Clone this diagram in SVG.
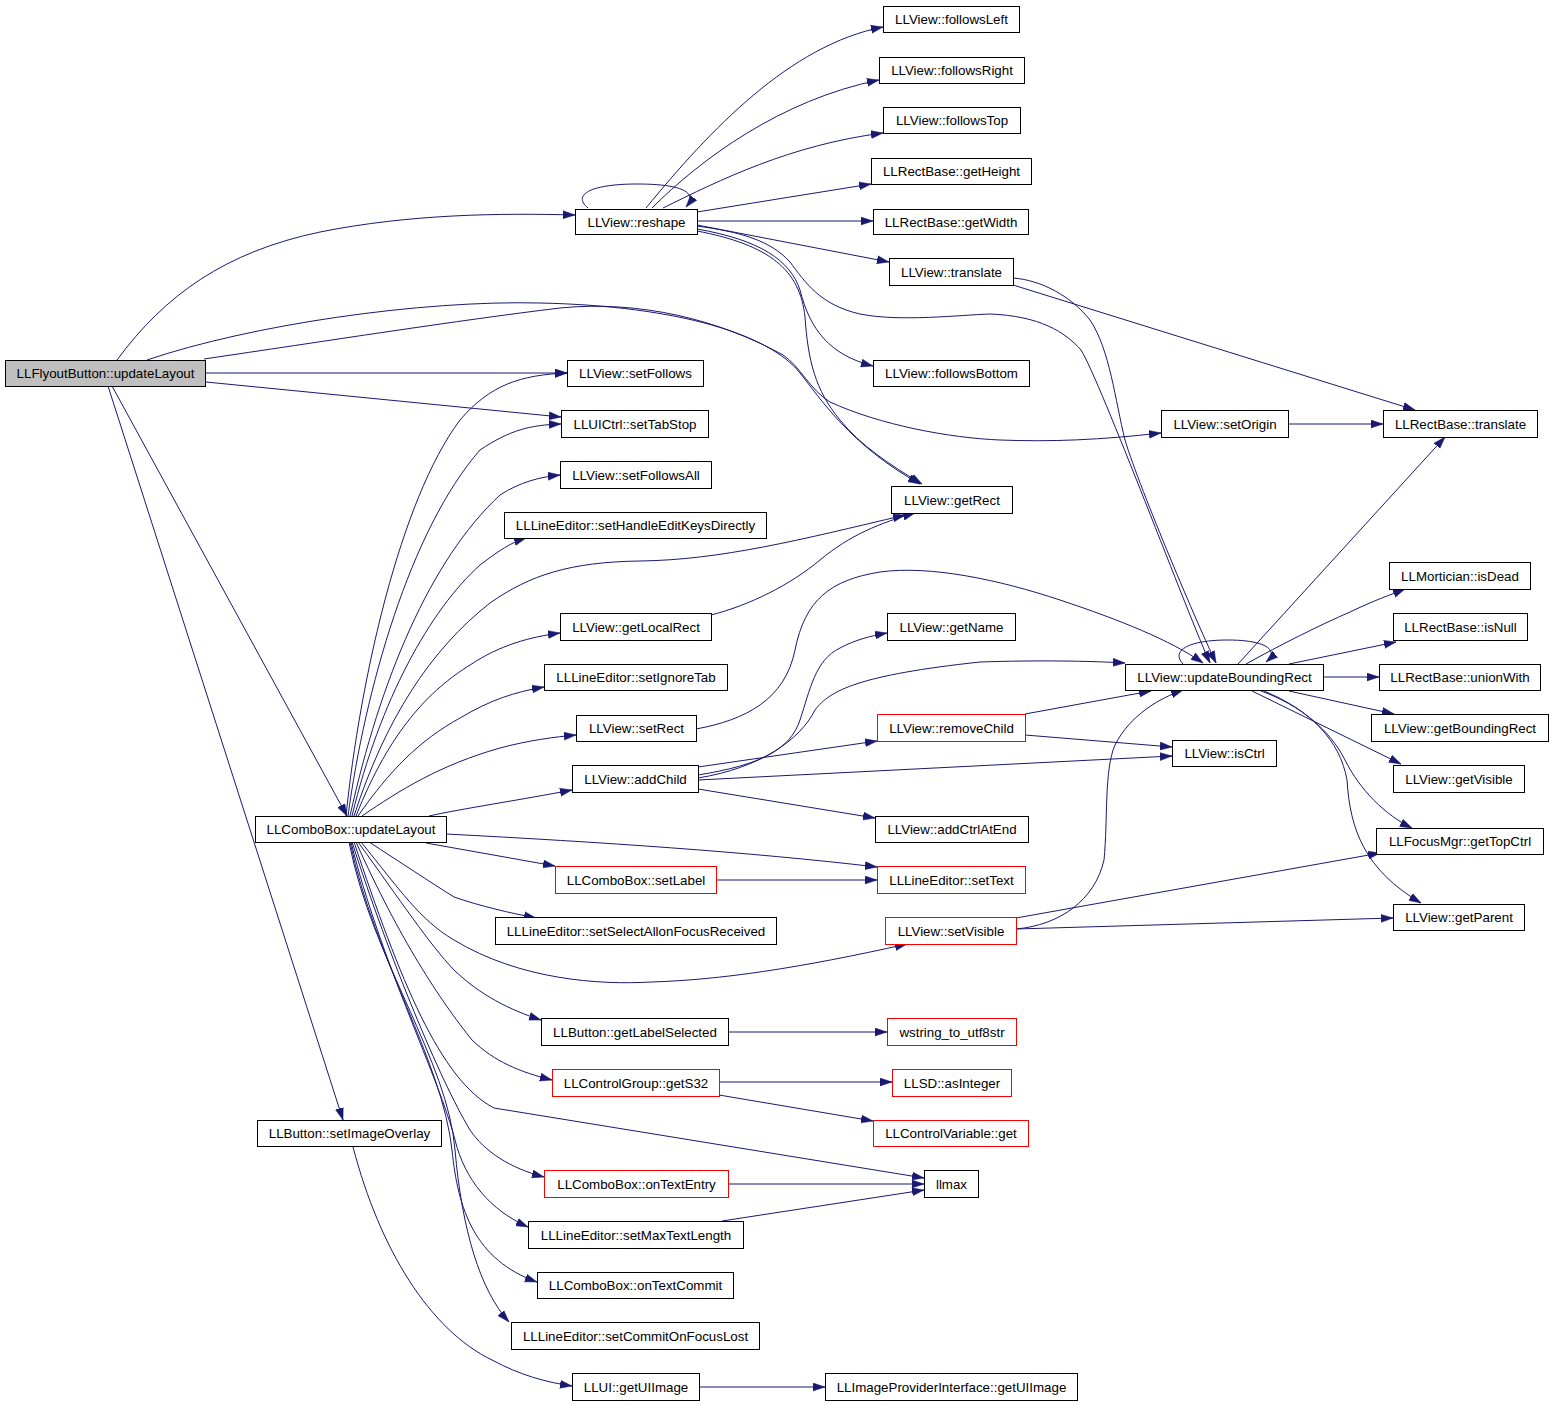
<svg xmlns="http://www.w3.org/2000/svg" width="1552" height="1405" viewBox="0 0 1552 1405">
<style>
.n rect{fill:#ffffff;stroke:#000000;stroke-width:1}
.n.r rect{stroke:#ff0000}
.n.g rect{fill:#bfbfbf}
.n text{font-family:"Liberation Sans",Arial,Helvetica,sans-serif;font-size:13.33px;text-anchor:middle;fill:#000000}
#edges path{fill:none;stroke:#191970;stroke-width:1;marker-end:url(#ah)}
</style>
<defs>
<marker id="ah" markerUnits="userSpaceOnUse" markerWidth="13" markerHeight="9" refX="12" refY="4.5" orient="auto"><path d="M0,0.5 L12,4.5 L0,8.5 z" fill="#191970" stroke="#191970" stroke-width="0.5"/></marker>
</defs>
<rect x="0" y="0" width="1552" height="1405" fill="#ffffff"/>
<g id="edges">
<path d="M117,360 C165,295 225,252 320,232 C410,214 500,213 575,215"/>
<path d="M147,360 C250,325 420,300 540,303 C680,306 770,335 800,373 C820,398 850,445 920,484"/>
<path d="M204,359 C320,342 460,320 560,308 C640,300 720,320 783,355 C800,366 810,390 830,402 C880,425 950,438 1000,440 C1050,442 1100,440 1161,433"/>
<path d="M206,373 L567,373"/>
<path d="M206,382 L561,417"/>
<path d="M112,386 L347,816"/>
<path d="M108,386 L343,1120"/>
<path d="M346,816 C360,680 400,500 460,420 C490,385 520,375 567,373"/>
<path d="M348,816 C365,690 410,530 480,450 C510,430 530,425 561,424"/>
<path d="M350,816 C380,680 430,560 500,495 C520,482 540,477 560,475"/>
<path d="M352,816 C380,700 430,610 480,565 C500,550 510,543 526,538"/>
<path d="M354,816 C385,720 430,650 490,603 C530,575 570,562 640,561 C720,560 800,540 905,515"/>
<path d="M356,816 C390,730 430,690 470,665 C500,645 530,637 560,633"/>
<path d="M358,816 C390,770 420,740 460,718 C490,700 515,692 544,687"/>
<path d="M362,816 C400,790 440,765 500,748 C530,740 555,737 576,735"/>
<path d="M429,816 C460,809 520,800 572,790"/>
<path d="M446,834 C600,842 750,852 877,867"/>
<path d="M426,843 L555,866"/>
<path d="M716,880 L877,880"/>
<path d="M369,842 C400,862 430,882 454,897 C480,906 510,913 536,918"/>
<path d="M361,842 C400,890 420,920 454,940 C520,980 600,985 651,982 C720,980 800,968 907,944"/>
<path d="M358,842 C400,900 430,945 454,970 C480,995 510,1010 541,1020"/>
<path d="M728,1032 L887,1032"/>
<path d="M356,842 C400,940 440,1000 472,1040 C495,1062 520,1072 552,1080"/>
<path d="M719,1082 L892,1082"/>
<path d="M719,1095 L873,1121"/>
<path d="M354,842 C400,980 440,1080 494,1108 L924,1178"/>
<path d="M728,1184 L924,1184"/>
<path d="M722,1221 L924,1190"/>
<path d="M352,842 C390,960 440,1080 470,1130 C485,1152 510,1168 544,1177"/>
<path d="M351,842 C380,960 440,1080 455,1140 C465,1180 490,1210 528,1227"/>
<path d="M350,842 C375,960 442,1060 452,1150 C458,1210 475,1260 537,1282"/>
<path d="M349,842 C372,960 448,1060 455,1150 C462,1230 480,1290 509,1322"/>
<path d="M353,1147 C380,1250 430,1330 492,1360 C520,1375 545,1382 572,1386"/>
<path d="M699,1387 L825,1387"/>
<path d="M588,208 C572,195 590,184 637,184 C675,184 700,190 686,207"/>
<path d="M646,208 C710,130 790,45 883,27"/>
<path d="M652,208 C700,160 780,100 879,80"/>
<path d="M663,208 C720,180 790,145 883,133"/>
<path d="M697,212 L871,184"/>
<path d="M697,221 L873,221"/>
<path d="M697,225 L889,262"/>
<path d="M697,226 C740,232 770,240 790,262 C805,282 820,305 860,314 C900,322 960,315 990,314 C1040,316 1065,332 1081,350 C1100,380 1190,620 1210,663"/>
<path d="M697,229 C760,240 790,260 800,290 C810,330 830,355 873,366"/>
<path d="M697,231 C770,245 800,270 805,317 C808,360 815,390 840,420 C860,445 890,465 922,484"/>
<path d="M1013,285 L1415,410"/>
<path d="M1013,278 C1040,280 1070,295 1090,320 C1110,350 1115,400 1125,440 C1140,490 1200,630 1216,663"/>
<path d="M1288,424 L1383,424"/>
<path d="M696,729 C745,720 785,700 795,650 C805,600 830,580 880,572 C930,565 1000,580 1060,600 C1120,620 1170,640 1203,663"/>
<path d="M711,615 C750,605 790,585 820,560 C850,535 880,523 915,513"/>
<path d="M698,767 L877,741"/>
<path d="M698,775 C760,765 790,750 800,720 C810,690 815,660 840,648 C855,640 870,636 887,633"/>
<path d="M698,778 C760,768 800,740 815,710 C830,690 860,675 980,662 C1040,660 1090,661 1125,663"/>
<path d="M698,780 L1172,756"/>
<path d="M698,789 L875,818"/>
<path d="M1025,714 L1151,691"/>
<path d="M1025,735 L1172,747"/>
<path d="M1016,929 C1060,925 1095,900 1104,860 C1108,820 1104,770 1115,745 C1130,715 1160,698 1183,690"/>
<path d="M1016,918 L1380,853"/>
<path d="M1016,929 L1393,918"/>
<path d="M1183,664 C1170,650 1190,640 1228,640 C1265,640 1280,650 1266,662"/>
<path d="M1238,664 L1445,437"/>
<path d="M1246,664 C1280,645 1320,625 1350,612 C1375,600 1390,595 1405,589"/>
<path d="M1289,664 L1396,642"/>
<path d="M1323,677 L1379,677"/>
<path d="M1289,691 L1394,714"/>
<path d="M1252,691 L1401,764"/>
<path d="M1261,691 C1300,705 1330,730 1345,760 C1360,790 1385,815 1412,828"/>
<path d="M1264,691 C1310,710 1340,740 1347,780 C1350,830 1365,870 1421,903"/>
</g>
<g id="n_fb" class="n g"><rect x="5.5" y="360.5" width="200" height="26"/><text x="105.5" y="378">LLFlyoutButton::updateLayout</text></g>
<g id="n_followsLeft" class="n"><rect x="883.5" y="6.5" width="136" height="26"/><text x="951.5" y="24">LLView::followsLeft</text></g>
<g id="n_followsRight" class="n"><rect x="879.5" y="57.5" width="145" height="26"/><text x="952" y="75">LLView::followsRight</text></g>
<g id="n_followsTop" class="n"><rect x="883.5" y="107.5" width="137" height="26"/><text x="952" y="125">LLView::followsTop</text></g>
<g id="n_getHeight" class="n"><rect x="871.5" y="158.5" width="160" height="26"/><text x="951.5" y="176">LLRectBase::getHeight</text></g>
<g id="n_getWidth" class="n"><rect x="873.5" y="209.5" width="155" height="25"/><text x="951" y="226.5">LLRectBase::getWidth</text></g>
<g id="n_reshape" class="n"><rect x="575.5" y="209.5" width="122" height="25"/><text x="636.5" y="226.5">LLView::reshape</text></g>
<g id="n_translate" class="n"><rect x="889.5" y="258.5" width="124" height="27"/><text x="951.5" y="276.5">LLView::translate</text></g>
<g id="n_followsBottom" class="n"><rect x="873.5" y="360.5" width="156" height="26"/><text x="951.5" y="378">LLView::followsBottom</text></g>
<g id="n_setFollows" class="n"><rect x="567.5" y="360.5" width="136" height="26"/><text x="635.5" y="378">LLView::setFollows</text></g>
<g id="n_setTabStop" class="n"><rect x="561.5" y="410.5" width="147" height="27"/><text x="635" y="428.5">LLUICtrl::setTabStop</text></g>
<g id="n_setOrigin" class="n"><rect x="1161.5" y="410.5" width="127" height="27"/><text x="1225" y="428.5">LLView::setOrigin</text></g>
<g id="n_rbTranslate" class="n"><rect x="1383.5" y="410.5" width="154" height="27"/><text x="1460.5" y="428.5">LLRectBase::translate</text></g>
<g id="n_setFollowsAll" class="n"><rect x="560.5" y="461.5" width="151" height="27"/><text x="636" y="479.5">LLView::setFollowsAll</text></g>
<g id="n_getRect" class="n"><rect x="891.5" y="486.5" width="121" height="27"/><text x="952" y="504.5">LLView::getRect</text></g>
<g id="n_setHandleEditKeysDirectly" class="n"><rect x="504.5" y="512.5" width="262" height="26"/><text x="635.5" y="530">LLLineEditor::setHandleEditKeysDirectly</text></g>
<g id="n_isDead" class="n"><rect x="1389.5" y="562.5" width="141" height="27"/><text x="1460" y="580.5">LLMortician::isDead</text></g>
<g id="n_getLocalRect" class="n"><rect x="560.5" y="613.5" width="151" height="27"/><text x="636" y="631.5">LLView::getLocalRect</text></g>
<g id="n_getName" class="n"><rect x="887.5" y="613.5" width="128" height="27"/><text x="951.5" y="631.5">LLView::getName</text></g>
<g id="n_isNull" class="n"><rect x="1393.5" y="613.5" width="134" height="27"/><text x="1460.5" y="631.5">LLRectBase::isNull</text></g>
<g id="n_setIgnoreTab" class="n"><rect x="544.5" y="664.5" width="183" height="26"/><text x="636" y="682">LLLineEditor::setIgnoreTab</text></g>
<g id="n_updateBoundingRect" class="n"><rect x="1125.5" y="664.5" width="198" height="26"/><text x="1224.5" y="682">LLView::updateBoundingRect</text></g>
<g id="n_unionWith" class="n"><rect x="1379.5" y="664.5" width="161" height="26"/><text x="1460" y="682">LLRectBase::unionWith</text></g>
<g id="n_setRect" class="n"><rect x="576.5" y="715.5" width="120" height="26"/><text x="636.5" y="733">LLView::setRect</text></g>
<g id="n_removeChild" class="n r"><rect x="877.5" y="714.5" width="148" height="27"/><text x="951.5" y="732.5">LLView::removeChild</text></g>
<g id="n_getBoundingRect" class="n"><rect x="1371.5" y="714.5" width="177" height="27"/><text x="1460" y="732.5">LLView::getBoundingRect</text></g>
<g id="n_isCtrl" class="n"><rect x="1172.5" y="740.5" width="104" height="26"/><text x="1224.5" y="758">LLView::isCtrl</text></g>
<g id="n_addChild" class="n"><rect x="572.5" y="765.5" width="126" height="27"/><text x="635.5" y="783.5">LLView::addChild</text></g>
<g id="n_getVisible" class="n"><rect x="1393.5" y="765.5" width="131" height="27"/><text x="1459" y="783.5">LLView::getVisible</text></g>
<g id="n_cbUpdateLayout" class="n"><rect x="255.5" y="816.5" width="191" height="26"/><text x="351" y="834">LLComboBox::updateLayout</text></g>
<g id="n_addCtrlAtEnd" class="n"><rect x="875.5" y="816.5" width="153" height="26"/><text x="952" y="834">LLView::addCtrlAtEnd</text></g>
<g id="n_getTopCtrl" class="n"><rect x="1376.5" y="828.5" width="167" height="26"/><text x="1460" y="846">LLFocusMgr::getTopCtrl</text></g>
<g id="n_setLabel" class="n r"><rect x="555.5" y="866.5" width="161" height="27"/><text x="636" y="884.5">LLComboBox::setLabel</text></g>
<g id="n_setText" class="n r"><rect x="877.5" y="866.5" width="148" height="27"/><text x="951.5" y="884.5">LLLineEditor::setText</text></g>
<g id="n_getParent" class="n"><rect x="1393.5" y="904.5" width="131" height="26"/><text x="1459" y="922">LLView::getParent</text></g>
<g id="n_setSelectAll" class="n"><rect x="495.5" y="917.5" width="281" height="27"/><text x="636" y="935.5">LLLineEditor::setSelectAllonFocusReceived</text></g>
<g id="n_setVisible" class="n r"><rect x="885.5" y="917.5" width="131" height="27"/><text x="951" y="935.5">LLView::setVisible</text></g>
<g id="n_getLabelSelected" class="n"><rect x="541.5" y="1018.5" width="187" height="27"/><text x="635" y="1036.5">LLButton::getLabelSelected</text></g>
<g id="n_wstring" class="n r"><rect x="887.5" y="1018.5" width="129" height="27"/><text x="952" y="1036.5">wstring_to_utf8str</text></g>
<g id="n_getS32" class="n r"><rect x="552.5" y="1069.5" width="167" height="27"/><text x="636" y="1087.5">LLControlGroup::getS32</text></g>
<g id="n_asInteger" class="n r"><rect x="892.5" y="1069.5" width="119" height="27"/><text x="952" y="1087.5">LLSD::asInteger</text></g>
<g id="n_setImageOverlay" class="n"><rect x="257.5" y="1120.5" width="184" height="26"/><text x="349.5" y="1138">LLButton::setImageOverlay</text></g>
<g id="n_cvGet" class="n r"><rect x="873.5" y="1120.5" width="155" height="26"/><text x="951" y="1138">LLControlVariable::get</text></g>
<g id="n_onTextEntry" class="n r"><rect x="544.5" y="1170.5" width="184" height="27"/><text x="636.5" y="1188.5">LLComboBox::onTextEntry</text></g>
<g id="n_llmax" class="n"><rect x="924.5" y="1170.5" width="54" height="27"/><text x="951.5" y="1188.5">llmax</text></g>
<g id="n_setMaxTextLength" class="n"><rect x="528.5" y="1221.5" width="215" height="27"/><text x="636" y="1239.5">LLLineEditor::setMaxTextLength</text></g>
<g id="n_onTextCommit" class="n"><rect x="537.5" y="1272.5" width="196" height="26"/><text x="635.5" y="1290">LLComboBox::onTextCommit</text></g>
<g id="n_setCommitOnFocusLost" class="n"><rect x="511.5" y="1322.5" width="248" height="27"/><text x="635.5" y="1340.5">LLLineEditor::setCommitOnFocusLost</text></g>
<g id="n_getUIImage" class="n"><rect x="572.5" y="1373.5" width="127" height="27"/><text x="636" y="1391.5">LLUI::getUIImage</text></g>
<g id="n_ipGetUIImage" class="n"><rect x="825.5" y="1373.5" width="252" height="27"/><text x="951.5" y="1391.5">LLImageProviderInterface::getUIImage</text></g>
</svg>
